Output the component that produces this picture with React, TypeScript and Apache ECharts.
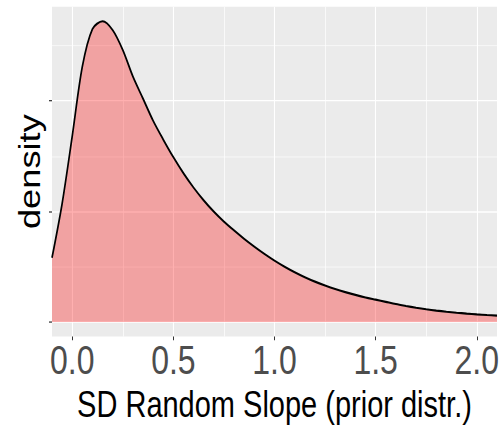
import React, { useEffect, useRef } from "react";
import * as echarts from "echarts";

// x positions (SD random slope) and read density heights
const xValues = [
  -0.1, -0.05, 0.0, 0.05, 0.1, 0.15, 0.2, 0.25, 0.3, 0.35, 0.4, 0.45, 0.5,
  0.55, 0.6, 0.65, 0.7, 0.75, 0.8, 0.85, 0.9, 0.95, 1.0, 1.05, 1.1, 1.15,
  1.2, 1.25, 1.3, 1.35, 1.4, 1.45, 1.5, 1.55, 1.6, 1.65, 1.7, 1.75, 1.8,
  1.85, 1.9, 1.95, 2.0, 2.05, 2.1,
];
const densityValues = [
  0.58, 1.07, 1.68, 2.31, 2.65, 2.72, 2.64, 2.46, 2.22, 2.02, 1.82, 1.65,
  1.49, 1.345, 1.215, 1.1, 0.998, 0.908, 0.828, 0.752, 0.682, 0.616, 0.555,
  0.5, 0.45, 0.405, 0.365, 0.33, 0.298, 0.27, 0.245, 0.222, 0.202, 0.182,
  0.162, 0.145, 0.129, 0.115, 0.103, 0.093, 0.084, 0.076, 0.069, 0.063, 0.058,
];
const xTickValues = [0, 0.5, 1, 1.5, 2];
const yTickValues = [0, 1, 2];
const xRange = [-0.1, 2.1];
const yRange = [-0.132, 2.851];
const xAxisTitle = "SD Random Slope (prior distr.)";
const yAxisTitle = "density";

const W = 502;
const H = 343;
const STRETCH = 429 / 343;

export default function App() {
  const ref = useRef<HTMLDivElement>(null);
  useEffect(() => {
    if (!ref.current) return;
    const chart = echarts.init(ref.current, null, { renderer: "svg" });
    const font = "'Liberation Sans', Arial, sans-serif";
    chart.setOption({
      animation: false,
      backgroundColor: "#FFFFFF",
      grid: {
        left: 52,
        right: 5,
        top: 5.4,
        bottom: 71.7,
        show: true,
        backgroundColor: "#EBEBEB",
        borderWidth: 0,
      },
      xAxis: {
        type: "value",
        min: xRange[0],
        max: xRange[1],
        splitNumber: 5,
        name: xAxisTitle,
        nameLocation: "middle",
        nameGap: 25,
        nameTextStyle: { fontSize: 29, color: "#000000", fontFamily: font },
        axisLine: { show: false, onZero: false },
        axisTick: {
          show: true,
          length: 3,
          customValues: xTickValues,
          lineStyle: { color: "#333333", width: 1 },
        },
        axisLabel: {
          customValues: xTickValues,
          formatter: (v: number) => v.toFixed(1),
          fontSize: 32,
          color: "#4D4D4D",
          fontFamily: font,
          margin: 3,
        },
        splitLine: { show: true, lineStyle: { color: "#FFFFFF", width: 1.1 } },
        minorTick: { show: false, splitNumber: 2 },
        minorSplitLine: { show: true, lineStyle: { color: "#FFFFFF", width: 0.6 } },
      },
      yAxis: {
        type: "value",
        min: yRange[0],
        max: yRange[1],
        splitNumber: 3,
        name: yAxisTitle,
        nameLocation: "middle",
        nameGap: 8,
        nameTextStyle: { fontSize: 29, color: "#000000", fontFamily: font },
        axisLine: { show: false, onZero: false },
        axisTick: {
          show: true,
          length: 3,
          customValues: yTickValues,
          lineStyle: { color: "#333333", width: 1 },
        },
        axisLabel: { show: false, customValues: yTickValues },
        splitLine: { show: true, lineStyle: { color: "#FFFFFF", width: 1.1 } },
        minorTick: { show: false, splitNumber: 2 },
        minorSplitLine: { show: true, lineStyle: { color: "#FFFFFF", width: 0.6 } },
      },
      series: [
        {
          type: "line",
          data: xValues.map((x, i) => [x, densityValues[i]]),
          smooth: 0.3,
          showSymbol: false,
          symbol: "none",
          lineStyle: { color: "#000000", width: 1.7 },
          areaStyle: { color: "rgba(255,0,0,0.31)", opacity: 1, origin: 0 },
          clip: true,
        },
      ],
    });
    return () => chart.dispose();
  }, []);
  return (
    <div
      style={{
        position: "fixed",
        left: 0,
        top: 0,
        width: W,
        height: H,
        transform: `scaleY(${STRETCH})`,
        transformOrigin: "0 0",
        background: "#FFFFFF",
      }}
    >
      <div ref={ref} style={{ width: W, height: H }} />
    </div>
  );
}
